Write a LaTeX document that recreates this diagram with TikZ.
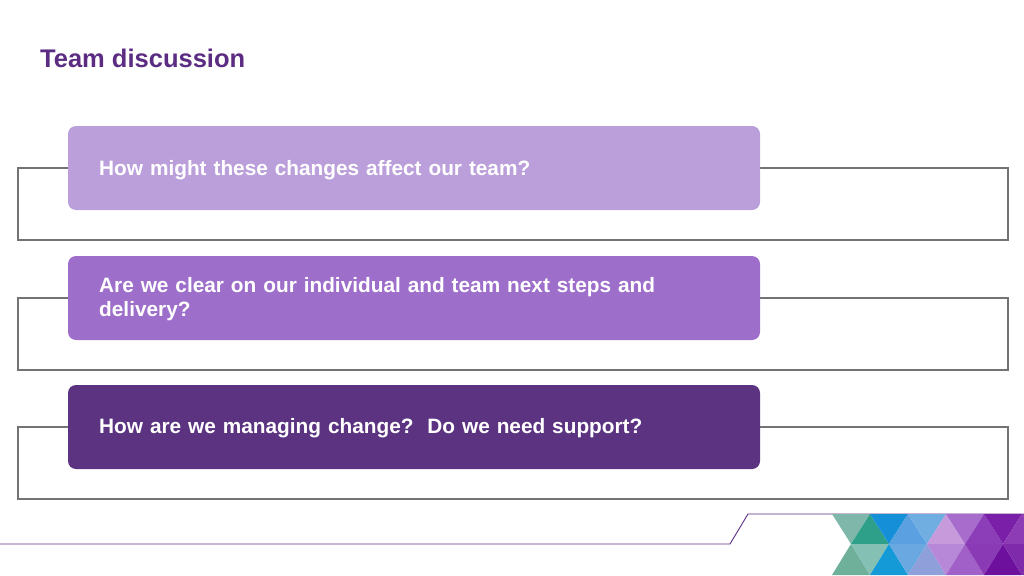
\documentclass[tikz,border=0pt]{standalone}
\usepackage{fontspec}
\setmainfont{Liberation Sans}
\begin{document}
\begin{tikzpicture}[x=1pt,y=-1pt,
 outl/.style={draw=black!55,line width=1.5pt},
 card/.style={rounded corners=8pt},
 txt/.style={text=white,inner sep=0pt,font=\bfseries\fontsize{20.8}{23.5}\selectfont,anchor=west,align=left,text width=640pt}]
\useasboundingbox (0,0) rectangle (1024,575);
\definecolor{c1}{HTML}{BB9FDB}\definecolor{c2}{HTML}{9E6FCA}\definecolor{c3}{HTML}{5B3381}
\definecolor{tt}{HTML}{5B2C82}
\node[anchor=west,inner sep=0pt,text=tt,font=\bfseries\fontsize{25.5}{30}\selectfont] (title) at (40,58) {Team discussion};
\foreach \y/\c/\n in {126/c1/a,256/c2/b,385/c3/c}{
 \draw[outl] (18,\y+42) rectangle (1008,\y+114);
 \fill[\c,card] (68,\y) rectangle (760,\y+84);
}
\node[txt] (t1) at (99,170) {How might these changes affect our team?};
\node[txt] (t2) at (99,299) {Are we clear on our individual and team next steps and\\delivery?};
\node[txt] (t3) at (99,428) {How are we managing change?\ \ Do we need support?};
\draw[color=tt,line width=0.9pt] (0,544) -- (730,544) -- (748,514) -- (1024,514);
\def\cols{{"7FB8AA","2EA08A","1590D8","5BA0E0","70AEE2","C79BDB","A76CCC","8B3EB8","7A1FA8","8E3CB5","8E3CB5"}}
\def\colsb{{"6EB09A","84C0B4","159AD8","6AA8E2","8E9FDA","B888D8","A060C8","8A3AB5","6E109E","7E2AAA","7E2AAA"}}
\foreach \i in {0,...,10}{
 \pgfmathsetmacro{\xa}{832+19*\i}
 \pgfmathparse{\cols[\i]}\definecolor{tc}{HTML}{\pgfmathresult}
 \pgfmathparse{\colsb[\i]}\definecolor{bc}{HTML}{\pgfmathresult}
 \ifodd\i
  \fill[tc] (\xa,544) -- (\xa+19,514) -- (\xa+38,544) -- cycle;
  \fill[bc] (\xa,544) -- (\xa+19,575) -- (\xa+38,544) -- cycle;
 \else
  \fill[tc] (\xa,514) -- (\xa+19,544) -- (\xa+38,514) -- cycle;
  \fill[bc] (\xa,575) -- (\xa+19,544) -- (\xa+38,575) -- cycle;
 \fi
}
\end{tikzpicture}
\end{document}
